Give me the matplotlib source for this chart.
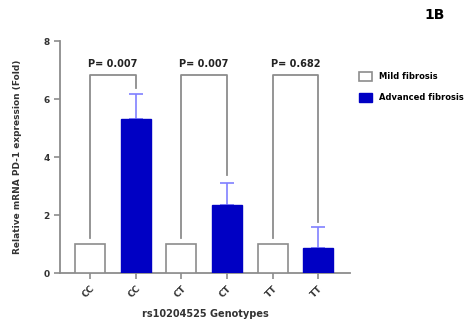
import matplotlib
matplotlib.use('Agg')
import matplotlib.pyplot as plt
import numpy as np

# data
genotypes = ['CC', 'CC', 'CT', 'CT', 'TT', 'TT']
mild = [1.0, 1.0, 1.0]
advanced = [5.32, 2.35, 0.87]
advanced_err = [0.85, 0.77, 0.73]
p_values = ['P= 0.007', 'P= 0.007', 'P= 0.682']
bracket_top = 6.83
left_leg_end = [1.2, 1.2, 1.2]
right_leg_end = [6.4, 3.38, 1.76]

blue = '#0000c4'
grey = '#8c8c8c'

fig = plt.figure(figsize=(4.72, 3.24), dpi=100)
ax = fig.add_axes([0.127, 0.157, 0.615, 0.716])

x = np.arange(len(genotypes))
xm = x[0::2]
xa = x[1::2]
w = 0.66

ax.bar(xm, mild, width=w, color='white', edgecolor=grey, linewidth=1.2,
       label='Mild fibrosis', zorder=3)
ax.bar(xa, advanced, width=w, color=blue, edgecolor=blue, linewidth=1,
       label='Advanced fibrosis', zorder=3)
ax.errorbar(xa, advanced, yerr=[np.zeros(3), advanced_err], fmt='none',
            ecolor='#8080ff', elinewidth=1.2, capsize=5, capthick=1.2, zorder=2)

# significance brackets
for i in range(3):
    x0, x1 = xm[i], xa[i]
    ax.plot([x0, x0, x1, x1], [left_leg_end[i], bracket_top, bracket_top, right_leg_end[i]],
            color=grey, lw=1.3, zorder=1)
    ax.text((x0 + x1) / 2, bracket_top + 0.2, p_values[i], ha='center', va='bottom',
            fontsize=7, fontweight='bold', color='#222222')

ax.set_ylim(0, 8)
ax.set_xlim(-0.66, 5.7)
ax.set_yticks([0, 2, 4, 6, 8])
ax.set_xticks(x)
ax.set_xticklabels(genotypes, rotation=45, ha='right', rotation_mode='anchor')
for s in ['top', 'right']:
    ax.spines[s].set_visible(False)
for s in ['left', 'bottom']:
    ax.spines[s].set_color(grey)
    ax.spines[s].set_linewidth(1.3)
ax.spines['left'].set_bounds(0, 8)
ax.tick_params(colors=grey, labelcolor='#333333', labelsize=6.5, width=1.2, length=4)
for t in ax.get_xticklabels() + ax.get_yticklabels():
    t.set_fontweight('bold')

ax.set_xlabel('rs10204525 Genotypes', fontsize=7, fontweight='bold', color='#333333', labelpad=7)
ax.set_ylabel('Relative mRNA PD-1 expression (Fold)', fontsize=6.5, fontweight='bold',
              color='#333333', labelpad=15)

leg = fig.legend(loc='upper left', bbox_to_anchor=(0.745, 0.80), frameon=False,
                 handlelength=1.6, handleheight=1.2, labelspacing=1.4,
                 prop={'size': 6, 'weight': 'bold'})

fig.text(0.92, 0.955, '1B', fontsize=10, fontweight='bold', ha='center', va='center')

fig.savefig('out.png', dpi=100)
